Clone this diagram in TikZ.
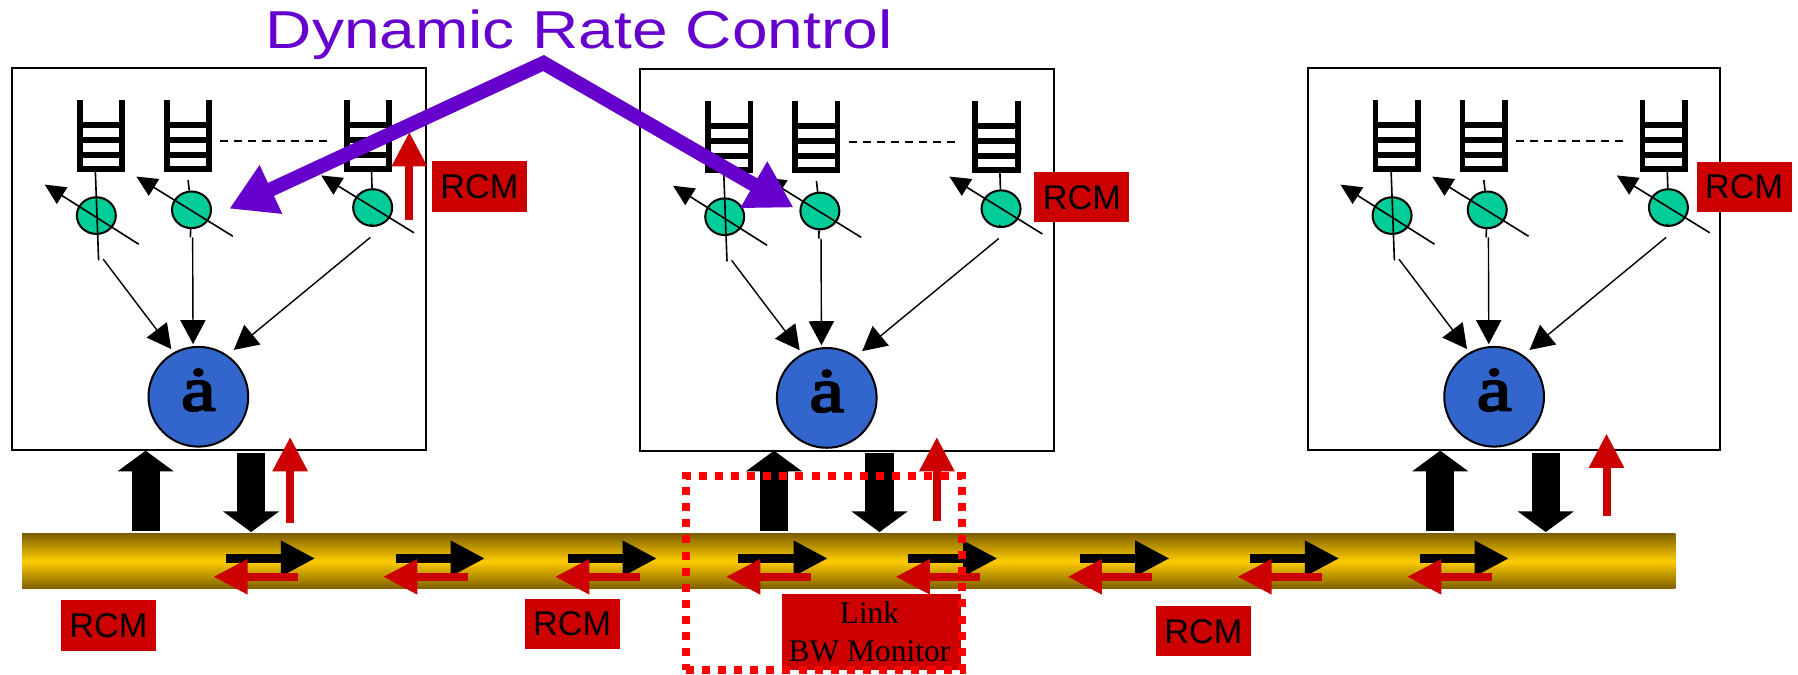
\documentclass[tikz,border=0pt]{standalone}
\usepackage{fontspec}
\setmainfont{Liberation Serif}
\setsansfont{Liberation Sans}
\newfontfamily\titlefont[FakeStretch=1.2]{Liberation Sans}
\newfontfamily\glyphfont[FakeBold=3.5,FakeStretch=1.25]{Liberation Serif}
\usetikzlibrary{arrows.meta,shapes.geometric}
\definecolor{rcmred}{HTML}{CC0000}
\definecolor{ratepurple}{HTML}{6600CC}
\definecolor{shapergreen}{HTML}{00CC99}
\definecolor{schedblue}{HTML}{3366CC}
\definecolor{busgold}{HTML}{FFCC00}
\definecolor{busbrown}{HTML}{7F6000}
\tikzset{
  rcmbox/.style={fill=rcmred,inner sep=0pt,minimum width=1.66cm,minimum height=.88cm,font=\sffamily\fontsize{17}{20}\selectfont},
  queue/.style={line width=2.8pt,miter limit=10},
  shaper/.style={ellipse,draw,line width=1pt,fill=shapergreen,minimum width=.68cm,minimum height=.64cm,inner sep=0pt},
  sched/.style={circle,draw,line width=1pt,fill=schedblue,minimum size=1.74cm,inner sep=0pt},
  thinline/.style={line width=.8pt},
  feed/.style={line width=.7pt,-{Triangle[length=.42cm,width=.44cm]}},
  rateadj/.style={line width=.8pt,-{Triangle[length=.36cm,width=.34cm]}},
  bigarrow/.style={line width=.49cm,-{Triangle[length=.36cm,width=.96cm]}},
  redup/.style={rcmred,line width=.14cm,-{Triangle[length=.6cm,width=.58cm]}},
  busright/.style={line width=.15cm,-{Triangle[length=.6cm,width=.58cm]}},
  busleft/.style={rcmred,line width=.14cm,-{Triangle[length=.6cm,width=.58cm]}},
  raterow/.style={ratepurple,line width=.25cm,line join=miter,{Triangle[length=.8cm,width=.88cm]}-{Triangle[length=.8cm,width=.88cm]}}
}
\begin{document}
\begin{tikzpicture}[x=.02cm,y=-.02cm]
  \useasboundingbox (0,0) rectangle (1568,588);

  % Bus
  \node[draw=none,minimum width=28.84cm,minimum height=.96cm,inner sep=0pt,anchor=north west,
    top color=busbrown,bottom color=busbrown,middle color=busgold] (bus) at (19,465) {};

  % Servers
  \foreach \dx/\dy/\bw/\nm in {0/0/7.22/a,548/1/7.22/b,1130/0/7.19/c}{
    \begin{scope}[shift={(\dx,\dy)}]
      \node[draw,line width=1pt,outer sep=0pt,minimum width=\bw cm,minimum height=6.66cm,inner sep=0pt,anchor=north west] (\nm box) at (10.5,59.5) {};
      % Queues
      \foreach \qx in {69.5,145.5,302.5}{
        \draw[queue] (\qx,87) -- (\qx,147.5) -- (\qx+37,147.5) -- (\qx+37,87);
        \foreach \qy in {109,122,135}
          \draw[queue] (\qx,\qy) -- (\qx+37,\qy);
      }
      \draw[thinline,dashed,dash pattern=on 4pt off 3pt] (192,123) -- (285,123);
      % Shapers
      \coordinate (\nm q1) at (83,145);
      \coordinate (\nm q2) at (164,157);
      \coordinate (\nm q3) at (324,150);
      \coordinate (\nm t1) at (86,227);
      \coordinate (\nm t2) at (166,207);
      \coordinate (\nm t3) at (324,195);
      \node[shaper] (\nm1) at (84,188) {};
      \node[shaper] (\nm2) at (167,183) {};
      \node[shaper] (\nm3) at (325,181) {};
      \draw[thinline] (\nm q1) -- (\nm t1);
      \draw[thinline] (\nm q2) -- (\nm2);
      \draw[thinline] (\nm2) -- (\nm t2);
      \draw[thinline] (\nm q3) -- (\nm3);
      \draw[thinline] (\nm3) -- (\nm t3);
      \coordinate (\nm r1) at (121,213);
      \coordinate (\nm l1) at (39,161);
      \coordinate (\nm r2) at (203,206);
      \coordinate (\nm l2) at (119,154);
      \coordinate (\nm r3) at (361,203);
      \coordinate (\nm l3) at (280,153);
      \foreach \n in {1,2,3}
        \draw[rateadj] (\nm r\n) -- (\nm l\n);
      % Scheduler
      \node[sched] (\nm sw) at (173,346) {\raisebox{7pt}{\glyphfont\fontsize{31}{31}\selectfont\.a}};
      \coordinate (\nm f1) at (90,226);
      \coordinate (\nm f2) at (168,207);
      \coordinate (\nm f3) at (323,207);
      \draw[feed,shorten >=2pt] (\nm f1) -- (\nm sw.119);
      \draw[feed,shorten >=1pt] (\nm f2) -- (\nm sw.96);
      \draw[feed,shorten >=4pt] (\nm f3) -- (\nm sw.55);
    \end{scope}
  }

  % Arrows to and from the bus
  \foreach \upx/\dnx in {127/219,675/767,1256/1348}{
    \coordinate (up\upx) at (\upx,393);
    \coordinate (dn\dnx) at (\dnx,464);
    \draw[bigarrow] (\upx,463) -- (up\upx);
    \draw[bigarrow] (\dnx,395) -- (dn\dnx);
  }
  \foreach \rx/\rt/\rb in {253/381/456,817/381/454,1401/378/450}{
    \coordinate (redt\rx) at (\rx,\rt);
    \draw[redup] (\rx,\rb) -- (redt\rx);
  }
  \coordinate (inredb) at (357,192);
  \coordinate (inredt) at (357,115);
  \draw[redup] (inredb) -- (inredt);

  % Arrows on the bus
  \foreach \bx in {197,345,495,644,792,942,1090,1238}{
    \draw[busright] (\bx,487) -- (\bx+78,487);
    \draw[busleft] (\bx+63,503) -- (\bx-11,503);
  }

  % RCM labels
  \node[rcmbox] (rcma) at (418,162.5) {RCM};
  \node[rcmbox] (rcmb) at (943.5,172) {RCM};
  \node[rcmbox] (rcmc) at (1521,163) {RCM};
  \node[rcmbox] (rcmd) at (94.5,545.5) {RCM};
  \node[rcmbox] (rcme) at (499,544) {RCM};
  \node[rcmbox] (rcmf) at (1049.5,550.5) {RCM};
  \node[fill=rcmred,minimum width=3.12cm,minimum height=1.32cm,inner sep=0pt,align=center,
    font=\fontsize{15.6}{19.2}\selectfont] (monitor) at (760,551) {Link\kern 2pt\\BW Monitor\kern 2pt};

  % Monitored region
  \node[draw=red,line width=4pt,outer sep=0pt,dash pattern=on 4pt off 4pt,minimum width=4.82cm,minimum height=3.38cm,
    inner sep=0pt,anchor=north west] (region) at (598,415) {};

  % Rate control
  \node[text=ratepurple,font=\titlefont\fontsize{26.5}{30}\selectfont] (title) at (505,30) {Dynamic Rate Control};
  \coordinate (apex) at (474,55);
  \coordinate (ratel) at (200,182);
  \coordinate (rater) at (692,181);
  \draw[raterow] (ratel) -- (apex) -- (rater);

\end{tikzpicture}
\end{document}
